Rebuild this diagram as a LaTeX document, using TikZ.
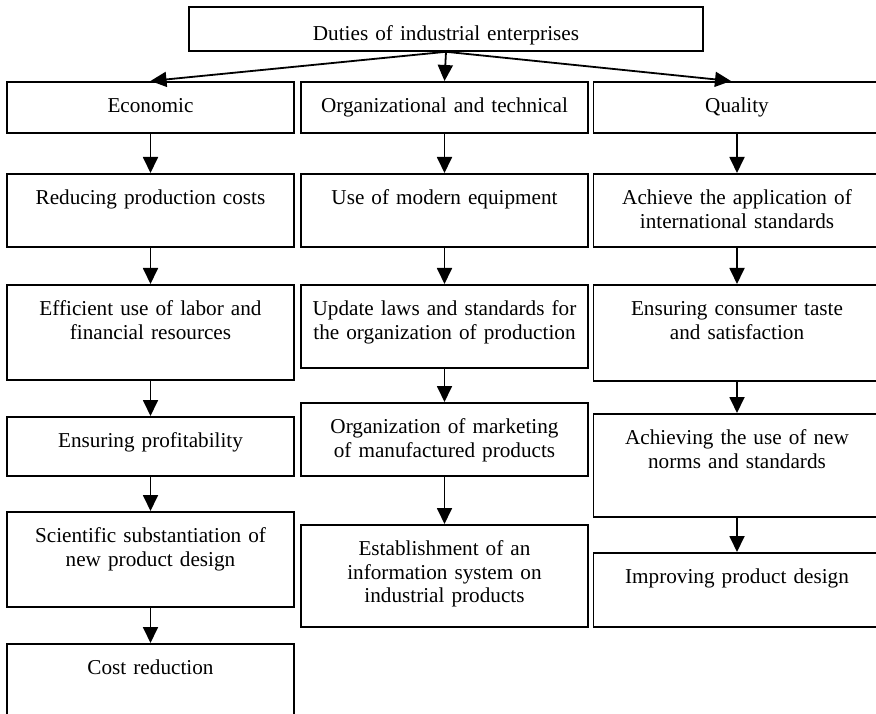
\documentclass[tikz,border=0pt]{standalone}
\usepackage{fontspec}
\setmainfont{Liberation Serif}
\usetikzlibrary{arrows.meta}
\begin{document}
\begin{tikzpicture}[x=1pt, y=-1pt, line width=1.8pt,
  >={Triangle[length=16pt, width=15pt]},
  duty/.style={draw, line width=1.8pt, anchor=north, inner sep=0pt,
               text width=287pt, align=center, text height=31pt,
               font=\fontsize{21.2}{23.5}\selectfont}]

  \path[use as bounding box, fill=white] (0,0) rectangle (876,714);

  % Naglowek
  \node[duty, text width=514pt, text height=34pt, text depth=10pt] (duties) at (446,6)
    {Duties of industrial enterprises};

  % Kolumna ekonomiczna
  \node[duty, text depth=20pt] (econ) at (150.5,81) {Economic};
  \node[duty, text depth=42pt] (costs) at (150.5,173) {Reducing production costs};
  \node[duty, text depth=64pt] (resources) at (150.5,284)
    {Efficient use of labor and\\financial resources};
  \node[duty, text depth=28pt] (profit) at (150.5,416) {Ensuring profitability};
  \node[duty, text depth=64pt] (design) at (150.5,511)
    {Scientific substantiation of\\new product design};
  \node[duty, text depth=100pt] (reduction) at (150.5,643) {Cost reduction};

  % Kolumna organizacyjno-techniczna
  \node[duty, text depth=20pt] (orgtech) at (444.5,81) {Organizational and technical};
  \node[duty, text depth=42pt] (equipment) at (444.5,173) {Use of modern equipment};
  \node[duty, text depth=52pt] (laws) at (444.5,284)
    {Update laws and standards for\\the organization of production};
  \node[duty, text depth=42pt] (marketing) at (444.5,402)
    {Organization of marketing\\of manufactured products};
  \node[duty, text depth=71pt] (infosys) at (444.5,524)
    {Establishment of an\\information system on\\industrial products};

  % Kolumna jakosci
  \node[duty, text depth=20pt] (quality) at (737,81) {Quality};
  \node[duty, text depth=42pt] (intl) at (737,173)
    {Achieve the application of\\international standards};
  \node[duty, text depth=65pt] (taste) at (737,284)
    {Ensuring consumer taste\\and satisfaction};
  \node[duty, text depth=72pt] (norms) at (737,413)
    {Achieving the use of new\\norms and standards};
  \node[duty, text depth=43pt] (improve) at (737,552) {Improving product design};

  % Strzalki z naglowka
  \draw[->] (duties.south) -- (econ.north);
  \draw[->] (duties.south) -- (orgtech.north);
  \draw[->] (duties.south) -- ([xshift=-6pt]quality.north);

  % Strzalki w kolumnach
  \draw[->] (econ.south) -- (costs.north);
  \draw[->] (costs.south) -- (resources.north);
  \draw[->] (resources.south) -- (profit.north);
  \draw[->] (profit.south) -- (design.north);
  \draw[->] (design.south) -- (reduction.north);

  \draw[->] (orgtech.south) -- (equipment.north);
  \draw[->] (equipment.south) -- (laws.north);
  \draw[->] (laws.south) -- (marketing.north);
  \draw[->] (marketing.south) -- (infosys.north);

  \draw[->] (quality.south) -- (intl.north);
  \draw[->] (intl.south) -- (taste.north);
  \draw[->] (taste.south) -- (norms.north);
  \draw[->] (norms.south) -- (improve.north);
\end{tikzpicture}
\end{document}
